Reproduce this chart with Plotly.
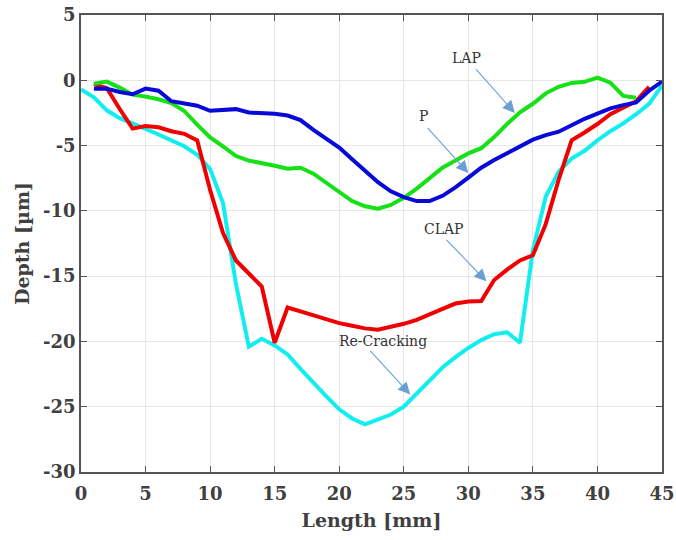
import plotly.graph_objects as go

# ---- data ----
x_lap = list(range(1, 44))
lap = [-0.26, -0.1, -0.56, -1.1, -1.25, -1.45, -1.75, -2.35, -3.4, -4.37,
       -5.07, -5.8, -6.15, -6.33, -6.55, -6.78, -6.7, -7.15, -7.85, -8.55,
       -9.25, -9.65, -9.83, -9.55, -9.0, -8.3, -7.5, -6.7, -6.15, -5.6,
       -5.2, -4.35, -3.35, -2.45, -1.8, -1.0, -0.5, -0.2, -0.12, 0.2,
       -0.18, -1.2, -1.33]

x_p = list(range(1, 46))
p = [-0.64, -0.64, -0.9, -1.07, -0.64, -0.8, -1.6, -1.78, -1.95, -2.34,
     -2.29, -2.21, -2.47, -2.5, -2.57, -2.7, -3.05, -3.8, -4.45, -5.15,
     -6.05, -6.95, -7.8, -8.5, -8.95, -9.25, -9.25, -8.85, -8.2, -7.45,
     -6.7, -6.1, -5.6, -5.05, -4.55, -4.2, -3.94, -3.45, -2.95, -2.55,
     -2.15, -1.9, -1.7, -0.8, -0.1]

x_clap = list(range(1, 45))
clap = [-0.3, -0.6, -2.2, -3.7, -3.5, -3.6, -3.9, -4.1, -4.6, -8.4,
        -11.7, -13.8, -14.8, -15.8, -20.1, -17.4, -17.7, -18.0, -18.3, -18.6,
        -18.8, -19.0, -19.1, -18.9, -18.65, -18.35, -17.9, -17.5, -17.1, -16.95,
        -16.9, -15.3, -14.5, -13.8, -13.4, -11.0, -7.6, -4.6, -4.0, -3.35,
        -2.6, -2.1, -1.6, -0.5]

x_rc = list(range(0, 46))
recrack = [-0.7, -1.3, -2.3, -2.9, -3.3, -3.7, -4.15, -4.6, -5.05, -5.7,
           -6.8, -9.4, -15.6, -20.4, -19.8, -20.3, -21.0, -22.1, -23.2, -24.2,
           -25.2, -25.9, -26.35, -26.0, -25.6, -25.0, -24.0, -23.0, -22.0, -21.2,
           -20.5, -19.9, -19.45, -19.3, -20.1, -13.0, -8.9, -7.0, -6.0, -5.4,
           -4.6, -3.9, -3.3, -2.6, -1.8, -0.4]

x_ticks = [0, 5, 10, 15, 20, 25, 30, 35, 40, 45]
x_ticktext = ["0", "5", "10", "15", "20", "25", "30", "35", "40", "45"]
y_ticks = [5, 0, -5, -10, -15, -20, -25, -30]
y_ticktext = ["5", "0", "-5", "-10", "-15", "-20", "-25", "-30"]

# annotation labels: (text, text_x, text_y, tail_x, tail_y, head_x, head_y)
labels = [
    ("LAP", 29.85, 1.7, 30.5, 0.95, 33.6, -2.5),
    ("P", 26.5, -2.7, 26.75, -3.55, 30.0, -7.1),
    ("CLAP", 28.1, -11.4, 28.2, -12.1, 31.4, -15.4),
    ("Re-Cracking", 23.4, -20.0, 22.3, -20.6, 25.5, -24.06),
]

fig = go.Figure()
for xs, ys, col in [(x_rc, recrack, "#12eef0"), (x_clap, clap, "#f00000"),
                    (x_lap, lap, "#16e016"), (x_p, p, "#0808d8")]:
    fig.add_trace(go.Scatter(x=xs, y=ys, mode="lines",
                             line=dict(color=col, width=4), showlegend=False))

for text, tx, ty, ax, ay, hx, hy in labels:
    fig.add_annotation(x=tx, y=ty, text=text, showarrow=False,
                       font=dict(family="DejaVu Serif", size=14, color="#333333"))
    fig.add_annotation(x=hx, y=hy, ax=ax, ay=ay, xref="x", yref="y",
                       axref="x", ayref="y", text="", showarrow=True,
                       arrowhead=2, arrowsize=2.2, arrowwidth=1.1,
                       arrowcolor="#6a9fd4")

axis_font = dict(family="DejaVu Serif", size=18, color="#404040", weight="bold")
title_font = dict(family="DejaVu Serif", size=19, color="#404040", weight="bold")
common = dict(tickfont=axis_font, showgrid=True, gridcolor="#e6e6e6",
              gridwidth=1, zeroline=False, showline=True, linecolor="#555555",
              linewidth=1.5, mirror="ticks", ticks="inside", ticklen=6,
              tickcolor="#555555", automargin=False)
fig.update_layout(
    width=676, height=540,
    margin=dict(l=81, r=14, t=15, b=68),
    paper_bgcolor="white", plot_bgcolor="white",
    xaxis=dict(range=[0, 45], tickvals=x_ticks, ticktext=x_ticktext,
               ticklabelstandoff=5,
               title=dict(text="Length [mm]", font=title_font, standoff=10),
               **common),
    yaxis=dict(range=[-30, 5], tickvals=y_ticks, ticktext=y_ticktext,
               title=dict(text="Depth [µm]", font=title_font, standoff=8),
               **common),
)

fig.write_html("out.html")
